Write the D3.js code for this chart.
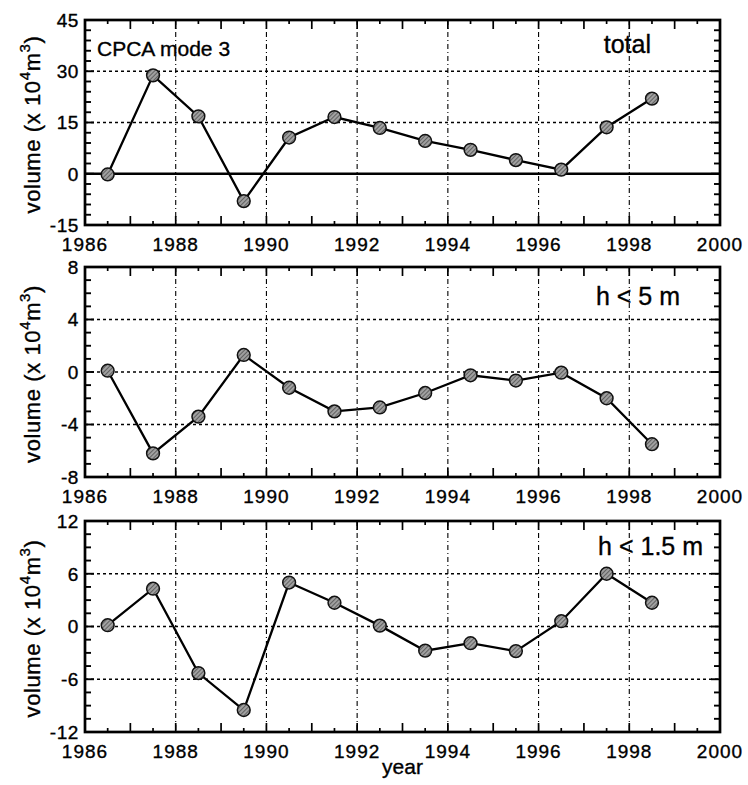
<!DOCTYPE html>
<html>
<head>
<meta charset="utf-8">
<script src="https://cdn.jsdelivr.net/npm/d3@7"></script>
<style>
  html, body { margin: 0; padding: 0; background: #fff; }
  svg { display: block; font-family: "Liberation Sans", Arial, Helvetica, sans-serif; }
  text { fill: #000; stroke: #000; stroke-width: 0.35px; }
</style>
</head>
<body>
<svg id="chart" width="748" height="785"></svg>
<script>
// Survey years (mid-year points) and CPCA mode 3 volume changes, in 10^4 m^3
const years = [1986.5, 1987.5, 1988.5, 1989.5, 1990.5, 1991.5, 1992.5,
               1993.5, 1994.5, 1995.5, 1996.5, 1997.5, 1998.5];
const totalVolume = [-0.2, 28.8, 16.8, -8.0, 10.6, 16.6, 13.4, 9.6, 7.0, 4.0, 1.2, 13.6, 22.0];
const shallow5Volume = [0.1, -6.2, -3.4, 1.3, -1.2, -3.0, -2.7, -1.6, -0.25, -0.65, -0.05, -2.0, -5.5];
const shallow15Volume = [0.15, 4.3, -5.3, -9.5, 5.0, 2.7, 0.1, -2.75, -1.9, -2.8, 0.6, 6.0, 2.7];

// Axis ticks
const yearTicks = [1986, 1988, 1990, 1992, 1994, 1996, 1998, 2000];
const totalTicks = [-15, 0, 15, 30, 45];
const shallow5Ticks = [-8, -4, 0, 4, 8];
const shallow15Ticks = [-12, -6, 0, 6, 12];

const panelLabels = ["total", "h < 5 m", "h < 1.5 m"];

const svg = d3.select("#chart");

const x = d3.scaleLinear().domain([1986, 2000]).range([85, 720]);

// hatched grey fill used for the markers
const defs = svg.append("defs");
const pat = defs.append("pattern")
  .attr("id", "hatch").attr("patternUnits", "userSpaceOnUse")
  .attr("width", 3).attr("height", 3)
  .attr("patternTransform", "rotate(45)");
pat.append("rect").attr("width", 3).attr("height", 3).attr("fill", "#a0a0a0");
pat.append("line").attr("x1", 0).attr("y1", 0).attr("x2", 0).attr("y2", 3)
  .attr("stroke", "#444").attr("stroke-width", 1.4);

const panels = [
  { values: totalVolume, ticks: totalTicks, minor: 3, top: 20, bottom: 225,
    label: panelLabels[0], labelRight: 651, labelBase: 53, solidZero: true },
  { values: shallow5Volume, ticks: shallow5Ticks, minor: 1, top: 267, bottom: 477,
    label: panelLabels[1], labelRight: 680, labelBase: 305, solidZero: false },
  { values: shallow15Volume, ticks: shallow15Ticks, minor: 1.5, top: 521, bottom: 732,
    label: panelLabels[2], labelRight: 703, labelBase: 555, solidZero: false }
];

const tickFont = 19;

panels.forEach(p => {
  const lo = p.ticks[0], hi = p.ticks[p.ticks.length - 1];
  const y = d3.scaleLinear().domain([lo, hi]).range([p.bottom, p.top]);
  const g = svg.append("g");
  const x0 = x.range()[0], x1 = x.range()[1];

  // vertical grid lines at labelled years
  g.selectAll(".vgrid").data(yearTicks.slice(1, -1)).enter().append("line")
    .attr("x1", d => x(d)).attr("x2", d => x(d))
    .attr("y1", p.top).attr("y2", p.bottom)
    .attr("stroke", "#000").attr("stroke-width", 1.1)
    .attr("stroke-dasharray", "5,3,1,3");

  // horizontal grid lines at labelled values
  g.selectAll(".hgrid").data(p.ticks.slice(1, -1).filter(v => !(p.solidZero && v === 0)))
    .enter().append("line")
    .attr("x1", x0).attr("x2", x1)
    .attr("y1", d => y(d)).attr("y2", d => y(d))
    .attr("stroke", "#000").attr("stroke-width", 1.3)
    .attr("stroke-dasharray", "3,3");

  if (p.solidZero) {
    g.append("line").attr("x1", x0).attr("x2", x1)
      .attr("y1", y(0)).attr("y2", y(0))
      .attr("stroke", "#000").attr("stroke-width", 2.6);
  }

  // year ticks (inward, top and bottom): whole years longer, half years shorter
  const xt = d3.range(1986.5, 2000, 0.5);
  xt.forEach(t => {
    const len = Number.isInteger(t) ? 9 : 4;
    g.append("line").attr("x1", x(t)).attr("x2", x(t))
      .attr("y1", p.bottom).attr("y2", p.bottom - len)
      .attr("stroke", "#000").attr("stroke-width", 1.7);
    g.append("line").attr("x1", x(t)).attr("x2", x(t))
      .attr("y1", p.top).attr("y2", p.top + len)
      .attr("stroke", "#000").attr("stroke-width", 1.7);
  });

  // value ticks (inward, left and right)
  const yt = d3.range(lo + p.minor, hi - 1e-9, p.minor);
  yt.forEach(t => {
    const len = p.ticks.includes(+t.toFixed(3)) ? 9 : 6;
    g.append("line").attr("x1", x0).attr("x2", x0 + len)
      .attr("y1", y(t)).attr("y2", y(t))
      .attr("stroke", "#000").attr("stroke-width", 1.9);
    g.append("line").attr("x1", x1).attr("x2", x1 - len)
      .attr("y1", y(t)).attr("y2", y(t))
      .attr("stroke", "#000").attr("stroke-width", 1.9);
  });

  // frame
  g.append("rect").attr("x", x0).attr("y", p.top)
    .attr("width", x1 - x0).attr("height", p.bottom - p.top)
    .attr("fill", "none").attr("stroke", "#000").attr("stroke-width", 2.7);

  // y tick labels
  g.selectAll(".ylab").data(p.ticks).enter().append("text")
    .attr("x", x0 - 6).attr("y", d => y(d))
    .attr("dy", "0.36em").attr("text-anchor", "end")
    .attr("font-size", tickFont).attr("letter-spacing", 0.6)
    .text(d => d);

  // x tick labels
  g.selectAll(".xlab").data(yearTicks).enter().append("text")
    .attr("x", d => x(d)).attr("y", p.bottom + 26)
    .attr("text-anchor", "middle")
    .attr("font-size", tickFont).attr("letter-spacing", 1)
    .text(d => d);

  // y axis title
  const cy = (p.top + p.bottom) / 2 + 2;
  const t = g.append("text")
    .attr("transform", `translate(40,${cy}) rotate(-90)`)
    .attr("text-anchor", "middle")
    .attr("font-size", 22).attr("letter-spacing", 0.6);
  t.append("tspan").text("volume (x 10");
  t.append("tspan").attr("font-size", 15).attr("dy", -10).text("4");
  t.append("tspan").attr("dy", 10).text("m");
  t.append("tspan").attr("font-size", 15).attr("dy", -10).text("3");
  t.append("tspan").attr("dy", 10).text(")");

  // panel label
  g.append("text").attr("x", p.labelRight).attr("y", p.labelBase)
    .attr("text-anchor", "end").attr("font-size", 25)
    .text(p.label);

  // series line and markers
  const pts = years.map((yr, k) => [yr, p.values[k]]);
  g.append("path").datum(pts)
    .attr("fill", "none").attr("stroke", "#000").attr("stroke-width", 2.3)
    .attr("d", d3.line().x(d => x(d[0])).y(d => y(d[1])));
  g.selectAll(".pt").data(pts).enter().append("circle")
    .attr("cx", d => x(d[0])).attr("cy", d => y(d[1])).attr("r", 6.4)
    .attr("fill", "url(#hatch)").attr("stroke", "#111").attr("stroke-width", 1.5);
});

// mode label in the top panel
svg.append("text").attr("x", 97).attr("y", 56)
  .attr("font-size", 21)
  .text("CPCA mode 3");

// shared x axis title
svg.append("text").attr("x", (x.range()[0] + x.range()[1]) / 2).attr("y", 774)
  .attr("text-anchor", "middle").attr("font-size", 21)
  .text("year");
</script>
</body>
</html>
